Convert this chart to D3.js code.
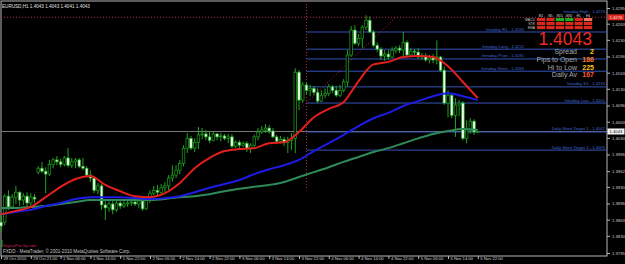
<!DOCTYPE html>
<html lang="en">
<head>
<meta charset="UTF-8">
<title>EURUSD,H1</title>
<style>
  body { margin: 0; background: #000; }
  svg { display: block; }
  text { font-family: "Liberation Sans", Arial, sans-serif; }
</style>
</head>
<body>
<div id="root"></div>
<script src="https://d3js.org/d3.v7.min.js"></script>
<script>
// hourly bars, 29 Oct 2010 13:00 .. 5 Nov 2010 22:00
const opens = [
  1.3858,1.3858,1.3911,1.3889,1.3909,1.3919,1.3903,1.3911,1.3897,1.3909,
  1.3960,1.3968,1.3962,1.3956,1.3976,1.3985,1.3981,1.3976,1.3989,1.3974,
  1.3981,1.3985,1.3972,1.3968,1.3954,1.3948,1.3923,1.3932,1.3893,1.3887,
  1.3895,1.3883,1.3897,1.3891,1.3895,1.3897,1.3899,1.3895,1.3901,1.3885,
  1.3903,1.3917,1.3923,1.3919,1.3928,1.3932,1.3948,1.3954,1.3964,1.3978,
  1.4009,1.4029,1.4009,1.4021,1.4036,1.4038,1.4032,1.4025,1.4038,1.4032,
  1.4034,1.4029,1.4032,1.4013,1.4021,1.4015,1.4019,1.4009,1.4015,1.4032,
  1.4042,1.4046,1.4050,1.4044,1.4032,1.4023,1.4027,1.4021,1.4025,1.4029,
  1.4164,1.4107,1.4138,1.4127,1.4131,1.4123,1.4105,1.4117,1.4121,1.4134,
  1.4127,1.4117,1.4127,1.4144,1.4199,1.4250,1.4223,1.4233,1.4256,1.4270,
  1.4246,1.4219,1.4211,1.4197,1.4201,1.4195,1.4209,1.4213,1.4209,1.4225,
  1.4199,1.4207,1.4205,1.4195,1.4197,1.4189,1.4193,1.4189,1.4195,1.4168,
  1.4101,1.4117,1.4076,1.4097,1.4101,1.4029,1.4046,1.4064,1.4043
]
const highs = [
  1.3872,1.3915,1.3923,1.3915,1.3932,1.3921,1.3917,1.3919,1.3917,1.3915,
  1.3972,1.3981,1.3970,1.3985,1.3989,1.3993,1.3987,1.3993,1.4009,1.3989,
  1.3989,1.3989,1.3989,1.3972,1.3964,1.3950,1.3938,1.3936,1.3903,1.3901,
  1.3903,1.3901,1.3903,1.3901,1.3903,1.3903,1.3905,1.3903,1.3909,1.3911,
  1.3923,1.3932,1.3934,1.3936,1.3940,1.3954,1.3974,1.3974,1.3985,1.4015,
  1.4040,1.4034,1.4029,1.4052,1.4050,1.4046,1.4044,1.4042,1.4040,1.4040,
  1.4038,1.4038,1.4038,1.4025,1.4025,1.4023,1.4023,1.4019,1.4036,1.4050,
  1.4054,1.4058,1.4056,1.4050,1.4036,1.4034,1.4032,1.4032,1.4040,1.4172,
  1.4168,1.4144,1.4144,1.4138,1.4136,1.4131,1.4127,1.4131,1.4140,1.4138,
  1.4136,1.4138,1.4150,1.4209,1.4258,1.4260,1.4242,1.4260,1.4280,1.4278,
  1.4250,1.4225,1.4215,1.4209,1.4209,1.4215,1.4217,1.4219,1.4246,1.4229,
  1.4213,1.4211,1.4213,1.4203,1.4203,1.4199,1.4201,1.4229,1.4197,1.4176,
  1.4127,1.4121,1.4111,1.4107,1.4105,1.4066,1.4070,1.4068,1.4043
]
const lows = [
  1.3838,1.3852,1.3883,1.3885,1.3895,1.3891,1.3893,1.3889,1.3887,1.3897,
  1.3956,1.3958,1.3917,1.3952,1.3968,1.3974,1.3970,1.3972,1.3970,1.3968,
  1.3968,1.3968,1.3964,1.3950,1.3940,1.3917,1.3915,1.3883,1.3862,1.3879,
  1.3874,1.3879,1.3885,1.3887,1.3889,1.3891,1.3891,1.3887,1.3881,1.3883,
  1.3897,1.3913,1.3911,1.3915,1.3919,1.3923,1.3940,1.3948,1.3956,1.3972,
  1.3999,1.4005,1.4001,1.4007,1.4027,1.4025,1.4019,1.4023,1.4025,1.4023,
  1.4025,1.4019,1.4009,1.4009,1.4009,1.4011,1.4001,1.3999,1.4011,1.4025,
  1.4038,1.4040,1.4038,1.4029,1.4017,1.4019,1.4013,1.3999,1.4005,1.3999,
  1.4087,1.4101,1.4119,1.4115,1.4117,1.4101,1.4103,1.4111,1.4115,1.4121,
  1.4113,1.4113,1.4123,1.4134,1.4195,1.4219,1.4217,1.4213,1.4250,1.4244,
  1.4215,1.4205,1.4189,1.4187,1.4189,1.4193,1.4203,1.4203,1.4197,1.4195,
  1.4195,1.4197,1.4191,1.4189,1.4185,1.4182,1.4182,1.4180,1.4164,1.4097,
  1.4072,1.4070,1.4032,1.4074,1.4025,1.4019,1.4038,1.4036,1.4041
]
const closes = [
  1.3850,1.3911,1.3889,1.3909,1.3919,1.3903,1.3911,1.3897,1.3909,1.3905,
  1.3968,1.3962,1.3956,1.3976,1.3985,1.3981,1.3976,1.3989,1.3974,1.3981,
  1.3985,1.3972,1.3968,1.3954,1.3948,1.3923,1.3932,1.3893,1.3887,1.3895,
  1.3883,1.3897,1.3891,1.3895,1.3897,1.3899,1.3895,1.3901,1.3885,1.3903,
  1.3917,1.3923,1.3919,1.3928,1.3932,1.3948,1.3954,1.3964,1.3978,1.4009,
  1.4029,1.4009,1.4021,1.4036,1.4038,1.4032,1.4025,1.4038,1.4032,1.4034,
  1.4029,1.4032,1.4013,1.4021,1.4015,1.4019,1.4009,1.4015,1.4032,1.4042,
  1.4046,1.4050,1.4044,1.4032,1.4023,1.4027,1.4021,1.4025,1.4029,1.4164,
  1.4107,1.4138,1.4127,1.4131,1.4123,1.4105,1.4117,1.4121,1.4134,1.4127,
  1.4117,1.4127,1.4144,1.4199,1.4250,1.4223,1.4233,1.4256,1.4270,1.4246,
  1.4219,1.4211,1.4197,1.4201,1.4195,1.4209,1.4213,1.4209,1.4225,1.4199,
  1.4207,1.4205,1.4195,1.4197,1.4189,1.4193,1.4189,1.4195,1.4168,1.4101,
  1.4117,1.4076,1.4097,1.4101,1.4029,1.4046,1.4064,1.4042,1.4043
]

// moving averages, read every 4th bar
const maBars = d3.range(0, 129, 4)
const maRed = [1.3874,1.3881,1.3889,1.3909,1.3930,1.3946,1.3952,1.3934,1.3921,1.3911,1.3909,
  1.3917,1.3938,1.3968,1.3989,1.4003,1.4007,1.4009,1.4019,1.4021,1.4042,1.4072,
  1.4089,1.4103,1.4146,1.4180,1.4185,1.4195,1.4197,1.4195,1.4176,1.4144,1.4111]
const maBlue = [1.3874,1.3879,1.3883,1.3891,1.3897,1.3905,1.3909,1.3909,1.3909,1.3907,1.3905,
  1.3907,1.3911,1.3919,1.3928,1.3936,1.3944,1.3956,1.3966,1.3974,1.3985,1.4003,
  1.4019,1.4036,1.4054,1.4070,1.4081,1.4095,1.4105,1.4115,1.4121,1.4115,1.4107]
const maGreen = [1.3887,1.3887,1.3889,1.3891,1.3895,1.3899,1.3903,1.3903,1.3903,1.3903,1.3903,
  1.3905,1.3909,1.3911,1.3915,1.3921,1.3926,1.3930,1.3934,1.3940,1.3950,1.3960,
  1.3970,1.3981,1.3991,1.4001,1.4009,1.4019,1.4029,1.4038,1.4044,1.4048,1.4046]

// time axis labels, every 8 bars
const timeTicks = d3.range(0, 129, 8)
const timeLabels = ["29 Oct 2010","29 Oct 21:00","1 Nov 06:00","1 Nov 14:00","1 Nov 22:00",
  "2 Nov 06:00","2 Nov 14:00","2 Nov 22:00","3 Nov 06:00","3 Nov 14:00","3 Nov 22:00",
  "4 Nov 06:00","4 Nov 14:00","4 Nov 22:00","5 Nov 06:00","5 Nov 14:00","5 Nov 22:00"]

const priceTicks = [1.3795,1.3830,1.3863,1.3896,1.3930,1.3962,1.3996,1.4030,1.4063,
  1.4096,1.4130,1.4163,1.4196,1.4230,1.4263,1.4295]

// pivot levels drawn from the start of 4 Nov
const levelStart = 82
const levelNames = ["Intraday High","Intraday R1","Intraday Long","Intraday Pivot","Intraday Short",
  "Intraday S1","Intraday Low","Daily Short Target 1","Daily Short Target 2"]
const levelValues = [1.4276,1.4246,1.4211,1.4191,1.4166,1.4134,1.4101,1.4042,1.4005]

const bid = 1.4043
const weekHigh = 1.4276
const trendFrom = [80, 1.4087]
const trendTo = [106, 1.4276]

const periods = ["M1","M5","M15","M30","H1","H4"]
const signalRows = ["MACD","STR","EMA"]
const signals = [
  [-1,-1, 1, 1,-1, 0],
  [-1,-1,-1,-1,-1,-1],
  [-1,-1,-1,-1,-1,-1]
]
const statNames = ["Spread","Pips to Open","Hi to Low","Daily Av"]
const statValues = [2, 186, 225, 167]
const statColors = ["#ffd400","#ff7a2a","#ffc21a","#ff5a30"]

// ---- layout
const width = 625, height = 264
const plot = {left: 1, right: 607, top: 1, bottom: 256}
const font = '"Liberation Sans", Arial, sans-serif'

const svg = d3.select("#root").append("svg")
  .attr("width", width)
  .attr("height", height)
  .style("background", "#000")

const x = d3.scaleLinear().domain([0, 128]).range([1, 477.8])
const y = d3.scaleLinear().domain([1.3795, 1.4295]).range([253, 8])

// frame
svg.append("rect")
  .attr("x", plot.left).attr("y", plot.top)
  .attr("width", plot.right - plot.left).attr("height", plot.bottom - plot.top)
  .attr("fill", "none").attr("stroke", "#b8b8b8").attr("stroke-width", 1)

// bid line
svg.append("line")
  .attr("x1", plot.left).attr("x2", plot.right)
  .attr("y1", y(bid)).attr("y2", y(bid))
  .attr("stroke", "#7a7a7a").attr("stroke-width", 1)

// pivot levels
const levels = levelNames.map((n, i) => ({name: n, value: levelValues[i]}))
svg.append("g").selectAll("line")
  .data(levels.slice(1))
  .join("line")
  .attr("x1", x(levelStart)).attr("x2", plot.right)
  .attr("y1", d => y(d.value)).attr("y2", d => y(d.value))
  .attr("stroke", "#3453b8").attr("stroke-width", 1)

// dotted red high line, day separator and trend line
const dotted = svg.append("g")
  .attr("stroke", "#b4284a").attr("stroke-width", 1).attr("stroke-dasharray", "1,2").attr("fill", "none")
dotted.append("line")
  .attr("x1", plot.left).attr("x2", plot.right)
  .attr("y1", y(weekHigh)).attr("y2", y(weekHigh))
dotted.append("line")
  .attr("x1", x(levelStart)).attr("x2", x(levelStart))
  .attr("y1", plot.top).attr("y2", y(1.3923))
dotted.append("line")
  .attr("x1", x(trendFrom[0])).attr("y1", y(trendFrom[1]))
  .attr("x2", x(trendTo[0])).attr("y2", y(trendTo[1]))

// candles
const bars = opens.map((o, i) => ({i, o, h: highs[i], l: lows[i], c: closes[i]}))
const candles = svg.append("g")
candles.selectAll("line")
  .data(bars)
  .join("line")
  .attr("x1", d => x(d.i)).attr("x2", d => x(d.i))
  .attr("y1", d => y(d.h)).attr("y2", d => y(d.l))
  .attr("stroke", "#1fa51f").attr("stroke-width", 1)
candles.selectAll("rect")
  .data(bars)
  .join("rect")
  .attr("x", d => x(d.i) - 1.3)
  .attr("width", 2.6)
  .attr("y", d => y(Math.max(d.o, d.c)))
  .attr("height", d => Math.max(0.8, Math.abs(y(d.o) - y(d.c))))
  .attr("fill", d => d.c >= d.o ? "#000" : "#eaffea")
  .attr("stroke", "#1fa51f").attr("stroke-width", 0.7)

// moving averages
const maLine = d3.line()
  .x((d, k) => x(maBars[k]))
  .y(d => y(d))
  .curve(d3.curveMonotoneX)
const mas = [[maGreen, "#2e8b57"], [maBlue, "#1c1ce6"], [maRed, "#e3201b"]]
svg.append("g").selectAll("path")
  .data(mas)
  .join("path")
  .attr("d", d => maLine(d[0]))
  .attr("fill", "none")
  .attr("stroke", d => d[1])
  .attr("stroke-width", 2)

// level labels; the ones behind the info panel are set just left of it
const behindPanel = d => y(d.value) > 24 && y(d.value) < 80
svg.append("g").selectAll("text")
  .data(levels)
  .join("text")
  .attr("x", d => behindPanel(d) ? 524 : plot.right - 2)
  .attr("y", (d, k) => y(d.value) - (k === 0 ? 4.5 : 1.5))
  .attr("text-anchor", "end")
  .attr("font-size", 4.2)
  .attr("fill", "#4068d0")
  .text(d => d.name + " - " + d.value.toFixed(4))

// signal panel
const colX = j => 537 + j * 9.4
const panel = svg.append("g")
panel.selectAll("text.hd")
  .data(periods)
  .join("text")
  .attr("class", "hd")
  .attr("x", (d, j) => colX(j) + 4)
  .attr("y", 17.3)
  .attr("text-anchor", "middle")
  .attr("font-size", 3.2)
  .attr("fill", "#d8d8d8")
  .text(d => d)
panel.selectAll("text.rw")
  .data(signalRows)
  .join("text")
  .attr("class", "rw")
  .attr("x", 535)
  .attr("y", (d, r) => 21 + r * 4)
  .attr("text-anchor", "end")
  .attr("font-size", 3.4)
  .attr("fill", "#c8c8c8")
  .text(d => d)
const sigColor = v => v > 0 ? "#1eae1e" : v < 0 ? "#d9281c" : "#f0705a"
signals.forEach((row, r) => {
  panel.selectAll(null)
    .data(row)
    .join("rect")
    .attr("x", (d, j) => colX(j))
    .attr("y", 18 + r * 4)
    .attr("width", 8.2)
    .attr("height", 3.2)
    .attr("fill", d => sigColor(d))
})

svg.append("text")
  .attr("x", 592).attr("y", 45)
  .attr("text-anchor", "end")
  .attr("font-size", 17.5)
  .attr("fill", "#ee2a22")
  .text(bid.toFixed(4))

statNames.forEach((n, k) => {
  const by = 54 + k * 7.8
  svg.append("text")
    .attr("x", 577).attr("y", by)
    .attr("text-anchor", "end")
    .attr("font-size", 7)
    .attr("fill", "#a8a8a8")
    .text(n)
  svg.append("text")
    .attr("x", 594).attr("y", by)
    .attr("text-anchor", "end")
    .attr("font-size", 7)
    .attr("font-weight", "bold")
    .attr("fill", statColors[k])
    .text(statValues[k])
})

// price axis
const yAxis = d3.axisRight(y)
  .tickValues(priceTicks)
  .tickSize(3)
  .tickPadding(2)
  .tickFormat(d3.format(".4f"))
const ya = svg.append("g")
  .attr("transform", `translate(${plot.right},0)`)
  .call(yAxis)
ya.select(".domain").remove()
ya.selectAll("line").attr("stroke", "#b8b8b8")
ya.selectAll("text").attr("font-size", 4.2).attr("font-family", font).attr("fill", "#d0d0d0")

// time axis
const xAxis = d3.axisBottom(x)
  .tickValues(timeTicks)
  .tickSize(3)
  .tickFormat((d, k) => timeLabels[k])
const xa = svg.append("g")
  .attr("transform", `translate(0,${plot.bottom})`)
  .call(xAxis)
xa.select(".domain").remove()
xa.selectAll("line").attr("stroke", "#b8b8b8")
xa.selectAll("text")
  .attr("text-anchor", "start")
  .attr("x", 2).attr("y", 1.5)
  .attr("font-size", 4.2).attr("font-family", font).attr("fill", "#d0d0d0")

// price tags on the axis
const tags = [[weekHigh, "#d9281c", "#ffe0e0"], [bid, "#f4f4f4", "#000"]]
tags.forEach(t => {
  svg.append("rect")
    .attr("x", plot.right + 0.5).attr("y", y(t[0]) - 3)
    .attr("width", 17).attr("height", 6)
    .attr("fill", t[1])
  svg.append("text")
    .attr("x", plot.right + 2.5).attr("y", y(t[0]) + 1.5)
    .attr("font-size", 4.2)
    .attr("fill", t[2])
    .text(t[0].toFixed(4))
})

// header and footer texts
svg.append("text")
  .attr("x", 2).attr("y", 8)
  .attr("font-size", 4.6).attr("fill", "#e0e0e0")
  .text(`EURUSD,H1  ${opens[128].toFixed(4)} ${highs[128].toFixed(4)} ${lows[128].toFixed(4)} ${closes[128].toFixed(4)}`)

svg.append("line")
  .attr("x1", 2).attr("x2", 2).attr("y1", 240).attr("y2", 247)
  .attr("stroke", "#1fa51f")
svg.append("text")
  .attr("x", 3).attr("y", 247)
  .attr("font-size", 4.4).attr("fill", "#c02050")
  .text("SignalPro by nda")
svg.append("text")
  .attr("x", 3).attr("y", 253)
  .attr("font-size", 4.6).attr("fill", "#c8c8c8")
  .text("FXDD - MetaTrader, © 2001-2010 MetaQuotes Software Corp.")
</script>
</body>
</html>
